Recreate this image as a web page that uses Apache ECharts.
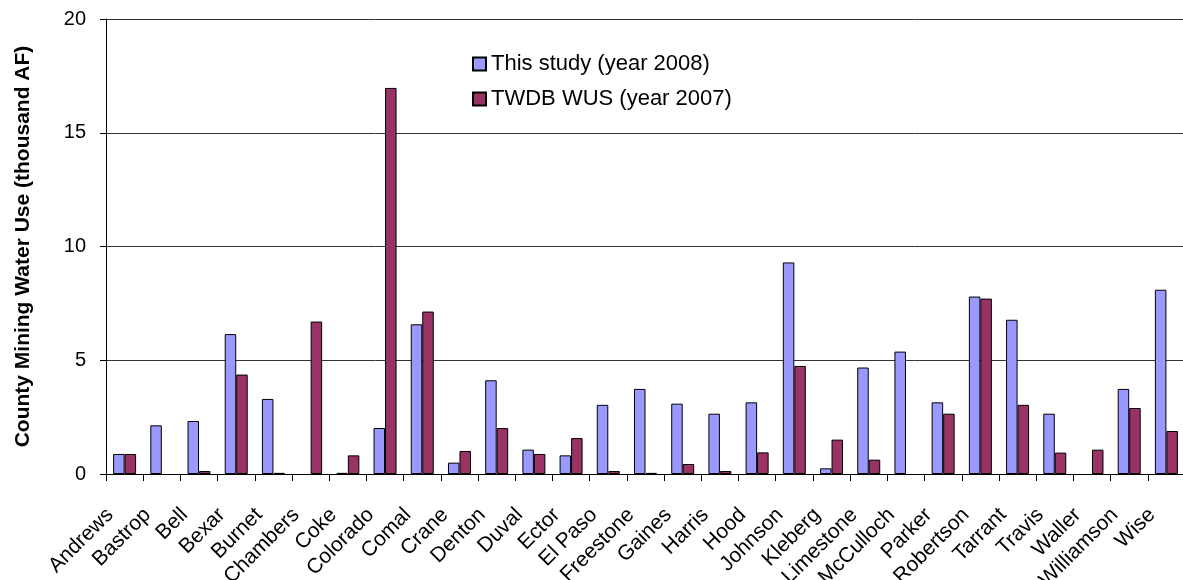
<!DOCTYPE html>
<html>
<head>
<meta charset="utf-8">
<script src="https://cdn.jsdelivr.net/npm/echarts@6/dist/echarts.min.js"></script>
<style>html,body{margin:0;padding:0;background:#fff;}#c{width:1183px;height:580px;}</style>
</head>
<body>
<div id="c"></div>
<script>
const categories = ["Andrews","Bastrop","Bell","Bexar","Burnet","Chambers","Coke","Colorado","Comal","Crane","Denton","Duval","Ector","El Paso","Freestone","Gaines","Harris","Hood","Johnson","Kleberg","Limestone","McCulloch","Parker","Robertson","Tarrant","Travis","Waller","Williamson","Wise"];
// null = no bar drawn in the reference
const thisStudy2008 = [0.88,2.14,2.33,6.15,3.30,null,0.05,2.02,6.58,0.50,4.12,1.07,0.82,3.04,3.74,3.09,2.65,3.15,9.30,0.25,4.68,5.38,3.15,7.80,6.78,2.65,null,3.74,8.10];
const twdbWus2007 = [0.88,null,0.13,4.37,0.05,6.70,0.82,16.97,7.14,1.01,2.02,0.88,1.58,0.13,0.05,0.44,0.13,0.95,4.75,1.51,0.63,null,2.65,7.71,3.04,0.94,1.07,2.90,1.89];
const seriesNames = ["This study (year 2008)","TWDB WUS (year 2007)"];
const yTicks = {min:0,max:20,interval:5};
const yAxisTitle = "County Mining Water Use (thousand AF)";

const chart = echarts.init(document.getElementById('c'), null, {renderer:'canvas'});
const font = '"Liberation Sans", Arial, sans-serif';
const toData = arr => arr.map(v => v === null ? '-' : v);
chart.setOption({
  animation:false,
  backgroundColor:'#fff',
  grid:{left:106, top:19, bottom:106, right:-2, containLabel:false, outerBoundsMode:'none'},
  legend:{
    orient:'vertical', left:472, top:53, padding:0, itemWidth:13, itemHeight:13, itemGap:13,
    icon:'rect',
    textStyle:{fontFamily:font, fontSize:22, color:'#000', lineHeight:22},
    data:seriesNames
  },
  xAxis:{
    type:'category', data:categories, boundaryGap:true,
    axisLine:{lineStyle:{color:'#000', width:1}},
    axisTick:{show:true, length:7, inside:false, lineStyle:{color:'#000'}},
    axisLabel:{rotate:45, interval:0, fontFamily:font, fontSize:21, color:'#000', margin:38, verticalAlign:'bottom', padding:[0,10,0,0], hideOverlap:false},
    splitLine:{show:false}
  },
  yAxis:{
    type:'value', min:yTicks.min, max:yTicks.max, interval:yTicks.interval,
    name:yAxisTitle, nameLocation:'middle', nameGap:72, nameRotate:90,
    nameTextStyle:{fontFamily:font, fontSize:21, fontWeight:'bold', color:'#000'},
    axisLine:{show:true, lineStyle:{color:'#000', width:1}},
    axisTick:{show:true, length:6, inside:false, lineStyle:{color:'#000'}},
    axisLabel:{fontFamily:font, fontSize:20, color:'#000', margin:20},
    splitLine:{show:true, lineStyle:{color:'#333', width:1}}
  },
  series:[
    {name:seriesNames[0], type:'bar', data:toData(thisStudy2008), barWidth:11.5, barGap:'0%',
     itemStyle:{color:'#9999FF', borderColor:'#000', borderWidth:1}},
    {name:seriesNames[1], type:'bar', data:toData(twdbWus2007), barWidth:11.5, barGap:'0%',
     itemStyle:{color:'#993366', borderColor:'#000', borderWidth:1}}
  ]
});
</script>
</body>
</html>
